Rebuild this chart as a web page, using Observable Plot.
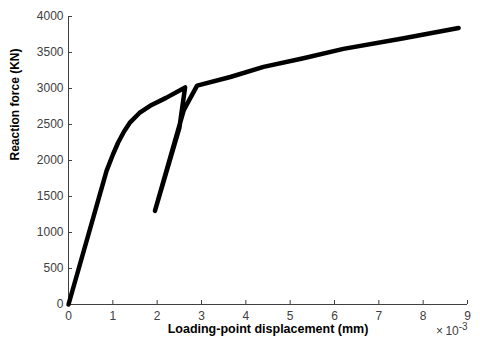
<!DOCTYPE html>
<html>
<head>
<meta charset="utf-8">
<script src="https://cdn.jsdelivr.net/npm/d3@7"></script>
<script src="https://cdn.jsdelivr.net/npm/@observablehq/plot@0.6"></script>
<style>
  html, body { margin: 0; padding: 0; background: #fff; }
  #chart { position: relative; width: 480px; height: 340px; font-family: "Liberation Sans", Arial, sans-serif; }
  #exp { position: absolute; left: 436px; top: 321px; font-size: 12px; color: #404040; }
  #exp sup { font-size: 10px; }
</style>
</head>
<body>
<div id="chart"><div id="exp">×&thinsp;10<sup>-3</sup></div></div>
<script>
// displacement (×10^-3 mm) and reaction force (KN), in path order
const disp  = [0, 0.86, 1.0, 1.12, 1.25, 1.39, 1.6, 1.84, 2.2, 2.63, 2.50, 1.95, 2.60, 2.90, 3.65, 4.40, 5.3, 6.2, 7.5, 8.80];
const force = [0, 1860, 2080, 2250, 2400, 2530, 2660, 2760, 2870, 3015, 2450, 1300, 2700, 3040, 3160, 3300, 3420, 3550, 3690, 3840];
const xTicks = [0, 1, 2, 3, 4, 5, 6, 7, 8, 9];
const yTicks = [0, 500, 1000, 1500, 2000, 2500, 3000, 3500, 4000];
const xLabel = "Loading-point displacement (mm)";
const yLabel = "Reaction force (KN)";

const data = disp.map((d, i) => ({x: d, y: force[i]}));
const axisColor = "#404040";
const W = 480, H = 340, ML = 68, MR = 13, MT = 16, MB = 36;
const tick = 4;

const plot = Plot.plot({
  width: W,
  height: H,
  marginLeft: ML,
  marginRight: MR,
  marginTop: MT,
  marginBottom: MB,
  style: {fontFamily: "Liberation Sans, Arial, sans-serif", fontSize: "12px", color: axisColor, background: "white"},
  x: {domain: [0, 9]},
  y: {domain: [0, 4000]},
  marks: [
    Plot.axisX(xTicks, {tickSize: 0, tickPadding: 7, label: null, fontSize: 12, tickFormat: d => String(d)}),
    Plot.axisY(yTicks, {tickSize: 0, tickPadding: 5, label: null, fontSize: 12, tickFormat: d => String(d)}),
    Plot.tickX(xTicks, {x: d => d, stroke: axisColor, insetTop: H - MT - MB - tick}),
    Plot.tickY(yTicks, {y: d => d, stroke: axisColor, insetRight: W - ML - MR - tick}),
    Plot.ruleX([0], {stroke: axisColor}),
    Plot.ruleY([0], {stroke: axisColor}),
    Plot.line(data, {x: "x", y: "y", stroke: "black", strokeWidth: 4.5, strokeLinejoin: "round", strokeLinecap: "round"}),
    Plot.text([xLabel], {frameAnchor: "bottom", dy: 28, text: d => d, fontWeight: "bold", fontSize: 12.5, fill: "black"}),
    Plot.text([yLabel], {frameAnchor: "left", dx: -53, rotate: -90, text: d => d, fontWeight: "bold", fontSize: 12, fill: "black"})
  ]
});
document.getElementById("chart").prepend(plot);
</script>
</body>
</html>
